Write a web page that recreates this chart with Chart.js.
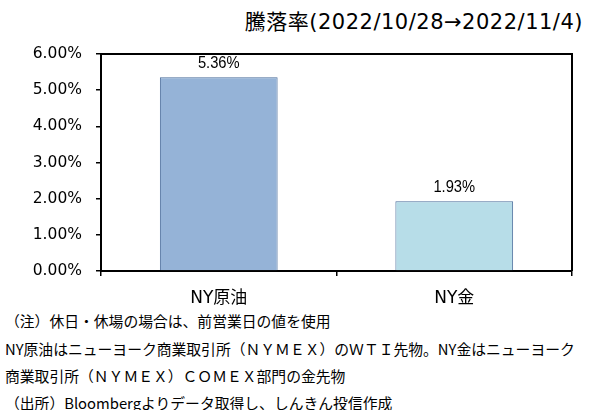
<!DOCTYPE html>
<html lang="ja">
<head>
<meta charset="UTF-8">
<title>騰落率</title>
<script src="https://cdn.jsdelivr.net/npm/chart.js"></script>
<style>
    body {
        margin: 0;
        padding: 0;
        width: 603px;
        height: 410px;
        background: #fff;
        position: relative;
        overflow: hidden;
        font-family: "DejaVu Sans", "Noto Sans CJK JP", sans-serif;
        color: #000;
    }
    #titulo {
        position: absolute;
        right: 20px;
        top: 9px;
        font-size: 21px;
        letter-spacing: 0.5px;
        line-height: 26px;
        white-space: nowrap;
        font-family: "DejaVu Sans", "Noto Sans CJK JP", sans-serif;
    }
    #caja {
        position: absolute;
        left: 0;
        top: 0;
        width: 603px;
        height: 310px;
    }
    .nota {
        position: absolute;
        left: 5px;
        font-size: 14.8px;
        line-height: 18px;
        white-space: nowrap;
        font-family: "Noto Sans CJK JP", sans-serif;
    }
</style>
</head>
<body>
<div id="titulo">騰落率(2022/10/28→2022/11/4)</div>
<div id="caja"><canvas id="grafico"></canvas></div>
<div class="nota" style="top:312px">（注）休日・休場の場合は、前営業日の値を使用</div>
<div class="nota" style="top:340px">NY原油はニューヨーク商業取引所（ＮＹＭＥＸ）のＷＴＩ先物。NY金はニューヨーク</div>
<div class="nota" style="top:367px">商業取引所（ＮＹＭＥＸ）ＣＯＭＥＸ部門の金先物</div>
<div class="nota" style="top:394px">（出所）Bloombergよりデータ取得し、しんきん投信作成</div>

<script>
    const categorias = ["NY原油", "NY金"];
    const rendimientos = [5.36, 1.93];   // %
    const ticksY = [0, 1, 2, 3, 4, 5, 6];

    const rellenos = ["#95b3d7", "#b7dde8"];
    const bordes = ["#4a6c9b", "#4a6c9b"];

    // etiquetas de valor encima de cada barra + marco superior/derecho
    const extras = {
        id: "extras",
        afterDatasetsDraw(chart) {
            const ctx = chart.ctx;
            const area = chart.chartArea;
            ctx.save();
            ctx.strokeStyle = "#000";
            ctx.lineWidth = 2;
            ctx.beginPath();
            ctx.moveTo(area.left, area.top);
            ctx.lineTo(area.right, area.top);
            ctx.lineTo(area.right, area.bottom);
            ctx.stroke();
            ctx.restore();

            chart.getDatasetMeta(0).data.forEach((barra, i) => {
                ctx.save();
                ctx.translate(barra.x, barra.y - 9);
                ctx.scale(0.92, 1);
                ctx.fillStyle = "#000";
                ctx.font = '16px "Liberation Sans", sans-serif';
                ctx.textAlign = "center";
                ctx.textBaseline = "alphabetic";
                ctx.fillText(rendimientos[i].toFixed(2) + "%", 0, 0);
                ctx.restore();
            });
        }
    };

    new Chart(document.getElementById("grafico"), {
        type: "bar",
        data: {
            labels: categorias,
            datasets: [{
                data: rendimientos,
                backgroundColor: rellenos,
                borderColor: bordes,
                borderWidth: 1,
                categoryPercentage: 0.5,
                barPercentage: 1.0
            }]
        },
        options: {
            responsive: true,
            maintainAspectRatio: false,
            animation: false,
            layout: { padding: { left: 0, right: 31, top: 54, bottom: 0 } },
            plugins: {
                legend: { display: false },
                tooltip: { enabled: false }
            },
            scales: {
                x: {
                    grid: {
                        offset: true,
                        drawOnChartArea: false,
                        color: "#000",
                        tickLength: 5,
                        lineWidth: 1.5
                    },
                    border: { color: "#000", width: 2 },
                    ticks: {
                        color: "#000",
                        padding: 12,
                        font: { family: '"DejaVu Sans", "Noto Sans CJK JP", sans-serif', size: 17 }
                    },
                    afterFit(scale) { scale.height = 39; }
                },
                y: {
                    min: 0,
                    max: 6,
                    afterBuildTicks(scale) {
                        scale.ticks = ticksY.map(v => ({ value: v }));
                    },
                    grid: {
                        drawOnChartArea: false,
                        color: "#000",
                        tickLength: 5,
                        lineWidth: 1.5
                    },
                    border: { color: "#000", width: 2 },
                    ticks: {
                        color: "#000",
                        padding: 14,
                        font: { family: '"DejaVu Sans", sans-serif', size: 15.5 },
                        callback: v => v.toFixed(2) + "%"
                    },
                    afterFit(scale) { scale.width = 101; }
                }
            }
        },
        plugins: [extras]
    });
</script>
</body>
</html>
